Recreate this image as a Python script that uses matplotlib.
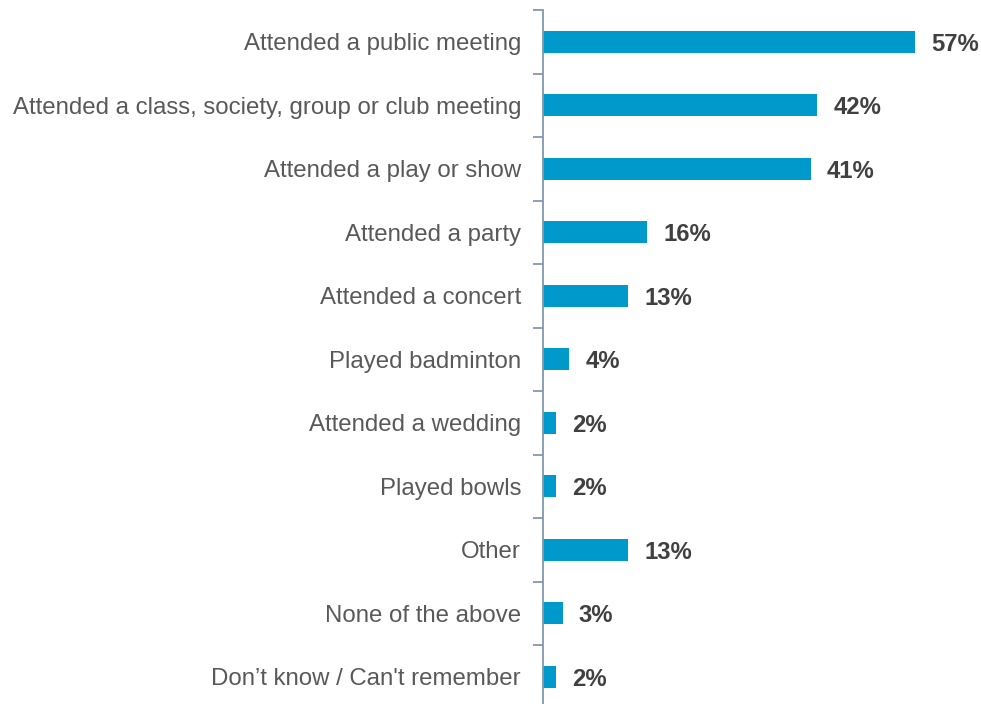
import numpy as np
import matplotlib.pyplot as plt

plt.rcParams['font.family'] = ['Liberation Sans', 'DejaVu Sans']

categories = [
    'Attended a public meeting',
    'Attended a class, society, group or club meeting',
    'Attended a play or show',
    'Attended a party',
    'Attended a concert',
    'Played badminton',
    'Attended a wedding',
    'Played bowls',
    'Other',
    'None of the above',
    'Don\u2019t know / Can\'t remember',
]
values = [57, 42, 41, 16, 13, 4, 2, 2, 13, 3, 2]

bar_color = '#0099cc'
spine_color = '#8497b0'

fig = plt.figure(figsize=(9.81, 7.04), dpi=100)
# axes: spine at x=543px, top at y=10px, one row per 63.5px
ax = fig.add_axes([543 / 981, 1 - 708.5 / 704, 1 - 543 / 981, 698.5 / 704])

y = np.arange(len(categories))
ax.barh(y, values, height=0.35, color=bar_color)
ax.set_ylim(len(categories) - 0.5, -0.5)
ax.set_xlim(0, (981 - 543) / 6.53)

for yi, v in zip(y, values):
    ax.text(v + 2.5, yi, f'{v}%', va='center_baseline', ha='left',
            fontsize=17.2, fontweight='bold', color='#404040')

ax.set_yticks(y)
ax.set_yticklabels(categories, fontsize=17.3, color='#595959')
ax.tick_params(axis='y', which='major', length=0, pad=15.8)
ax.set_yticks(np.arange(-0.5, len(categories)), minor=True)
ax.tick_params(axis='y', which='minor', length=7, width=1.3, color=spine_color)
ax.set_xticks([])

for s in ['top', 'right', 'bottom']:
    ax.spines[s].set_visible(False)
ax.spines['left'].set_color(spine_color)
ax.spines['left'].set_linewidth(1.3)

fig.savefig('out.png', dpi=100)
